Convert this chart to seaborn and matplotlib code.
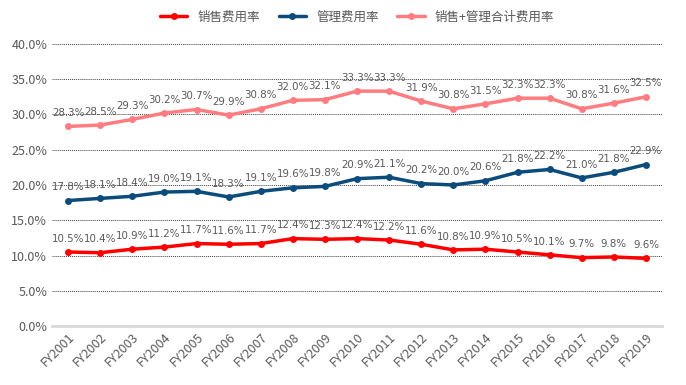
import matplotlib
matplotlib.use("Agg")
from matplotlib import pyplot as plt
from matplotlib.ticker import PercentFormatter
import pandas as pd
import seaborn as sns

years = ["FY%d" % y for y in range(2001, 2020)]
sales_rate = [10.5, 10.4, 10.9, 11.2, 11.7, 11.6, 11.7, 12.4, 12.3, 12.4,
              12.2, 11.6, 10.8, 10.9, 10.5, 10.1, 9.7, 9.8, 9.6]
admin_rate = [17.8, 18.1, 18.4, 19.0, 19.1, 18.3, 19.1, 19.6, 19.8, 20.9,
              21.1, 20.2, 20.0, 20.6, 21.8, 22.2, 21.0, 21.8, 22.9]
total_rate = [28.3, 28.5, 29.3, 30.2, 30.7, 29.9, 30.8, 32.0, 32.1, 33.3,
              33.3, 31.9, 30.8, 31.5, 32.3, 32.3, 30.8, 31.6, 32.5]
series_names = ["销售费用率", "管理费用率", "销售+管理合计费用率"]
colors = ["#FF0000", "#0B4C7D", "#FF7C80"]

sns.set_style("white")
plt.rcParams['font.family'] = ['Noto Sans CJK SC', 'DejaVu Sans']

df = pd.DataFrame({
    "year": years * 3,
    "rate": sales_rate + admin_rate + total_rate,
    "series": [series_names[0]] * 19 + [series_names[1]] * 19 + [series_names[2]] * 19,
})

fig = plt.figure(figsize=(6.86, 3.85), dpi=100)
ax = fig.add_axes([0.076, 0.153, 0.889, 0.733])

sns.lineplot(data=df, x="year", y="rate", hue="series", hue_order=series_names,
             palette=colors, marker="o", markersize=5, markeredgewidth=0,
             linewidth=2.5, ax=ax, sort=False)

# data labels above each point
for vals in [sales_rate, admin_rate, total_rate]:
    for i, v in enumerate(vals):
        ax.annotate("%.1f%%" % v, (i, v), xytext=(0, 6), textcoords="offset points",
                    ha="center", va="bottom", fontsize=7.4, color="#595959",
                    family="DejaVu Sans")

ax.set_ylim(0, 40)
ax.set_yticks(range(0, 41, 5))
ax.yaxis.set_major_formatter(PercentFormatter(decimals=1))
ax.set_xlim(-0.5, 18.5)
ax.grid(axis="y", linestyle=(0, (1, 1)), color="#404040", linewidth=0.7)
ax.grid(axis="x", visible=False)
for s in ["top", "right", "left"]:
    ax.spines[s].set_visible(False)
ax.spines["bottom"].set_color("#D9D9D9")
ax.spines["bottom"].set_linewidth(2)
ax.set_xlabel("")
ax.set_ylabel("")
ax.tick_params(axis="both", length=0, labelcolor="#595959", labelsize=9)
plt.setp(ax.get_xticklabels(), rotation=45, ha="right", rotation_mode="anchor")

ax.legend(loc="center", bbox_to_anchor=(0.5, 1.096), ncol=3, frameon=False,
          fontsize=9, labelcolor="#595959", handlelength=2.2, columnspacing=1.5)

fig.savefig("out.png", dpi=100)
